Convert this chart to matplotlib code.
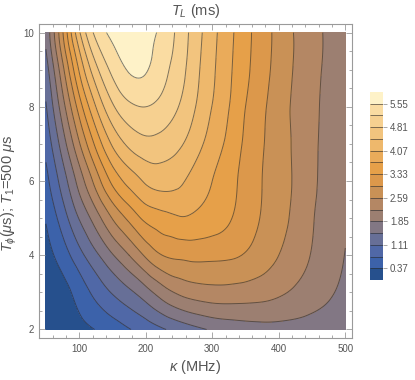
import numpy as np
import matplotlib
matplotlib.use("Agg")
import matplotlib.pyplot as plt
import matplotlib.tri as mtri
from matplotlib.ticker import MultipleLocator

plt.rcParams['font.family'] = ['Liberation Sans', 'DejaVu Sans']
plt.rcParams['mathtext.fontset'] = 'custom'
plt.rcParams['mathtext.rm'] = 'Liberation Sans'
plt.rcParams['mathtext.it'] = 'Liberation Sans:italic'
plt.rcParams['mathtext.bf'] = 'Liberation Sans:bold'

# --- data: T_L (ms) on a kappa x T_phi grid ---
KAPPA = [50, 75, 100, 125, 150, 175, 200, 225, 250, 275, 300, 325, 350, 375, 400, 425, 450, 475, 500]
TPHI = [2, 3, 4, 5, 6, 7, 8, 9, 10]

TL_2 = [0.11, 0.17, 0.255, 0.38, 0.54, 0.72, 0.89, 1.07, 1.23, 1.39, 1.52, 1.60, 1.66, 1.70, 1.71, 1.70, 1.68, 1.64, 1.60]
TL_3 = [0.14, 0.25, 0.52, 0.85, 1.14, 1.40, 1.70, 2.04, 2.28, 2.40, 2.45, 2.45, 2.42, 2.37, 2.28, 2.16, 2.03, 1.90, 1.76]
TL_4 = [0.24, 0.55, 0.98, 1.40, 1.82, 2.22, 2.65, 2.96, 3.04, 3.07, 3.05, 3.02, 2.93, 2.77, 2.59, 2.39, 2.20, 2.02, 1.84]
TL_5 = [0.40, 0.92, 1.50, 2.04, 2.61, 3.05, 3.42, 3.57, 3.67, 3.63, 3.53, 3.37, 3.15, 2.93, 2.72, 2.50, 2.25, 2.07, 1.88]
TL_6 = [0.63, 1.28, 2.00, 2.74, 3.42, 3.83, 4.12, 4.22, 4.14, 3.92, 3.70, 3.47, 3.20, 2.96, 2.75, 2.54, 2.29, 2.09, 1.90]
TL_7 = [0.86, 1.66, 2.55, 3.42, 4.12, 4.52, 4.70, 4.66, 4.50, 4.22, 3.90, 3.60, 3.26, 2.99, 2.76, 2.53, 2.30, 2.10, 1.92]
TL_8 = [1.08, 2.06, 3.13, 4.07, 4.75, 5.10, 5.18, 5.06, 4.80, 4.44, 4.06, 3.71, 3.33, 3.03, 2.76, 2.52, 2.31, 2.11, 1.93]
TL_9 = [1.31, 2.48, 3.74, 4.70, 5.28, 5.58, 5.58, 5.31, 4.98, 4.55, 4.14, 3.77, 3.42, 3.10, 2.82, 2.55, 2.33, 2.14, 1.96]
TL_10 = [1.55, 2.92, 4.38, 5.28, 5.63, 5.68, 5.64, 5.47, 5.06, 4.62, 4.19, 3.81, 3.45, 3.13, 2.84, 2.56, 2.35, 2.15, 1.97]

TL_ROWS = [TL_2, TL_3, TL_4, TL_5, TL_6, TL_7, TL_8, TL_9, TL_10]

LEVEL_STEP = 0.37
N_LINES = 15
CB_TICKS = [0.37, 1.11, 1.85, 2.59, 3.33, 4.07, 4.81, 5.55]

# --- style ---
BAND_COLORS = ['#26508d', '#3c62aa', '#5068a7', '#676f97', '#827784', '#9c7f71',
               '#b48764', '#c99156', '#dc984b', '#e6a049', '#eaab5a', '#eeb86c',
               '#f2c47e', '#f6d090', '#fadca2', '#fef2c8']
TEXT_COLOR = '#555555'
FRAME_COLOR = '#9a9a9a'
PX_PER_KAPPA = 0.665   # screen scale, used only to shape the smoothing triangles
PX_PER_TPHI = 37.0


def make_plot():
    k_grid, t_grid = np.meshgrid(KAPPA, TPHI)
    z = np.array(TL_ROWS)

    # smooth the read grid with matplotlib's cubic tri-interpolator,
    # working in screen-like units so the triangles are not too skewed
    tri = mtri.Triangulation(k_grid.ravel() * PX_PER_KAPPA, t_grid.ravel() * PX_PER_TPHI)
    interp = mtri.CubicTriInterpolator(tri, z.ravel(), kind='min_E')
    refiner = mtri.UniformTriRefiner(tri)
    tri_ref, z_ref = refiner.refine_field(z.ravel(), triinterpolator=interp, subdiv=4)
    tri_data = mtri.Triangulation(tri_ref.x / PX_PER_KAPPA, tri_ref.y / PX_PER_TPHI,
                                  tri_ref.triangles)

    line_levels = [LEVEL_STEP * (i + 1) for i in range(N_LINES)]
    fill_levels = [0.0] + line_levels + [float(z_ref.max()) + 1e-3]

    fig = plt.figure(figsize=(4.15, 3.8), dpi=100)
    ax = fig.add_axes([0.0947, 0.1105, 0.7533, 0.8263])

    cf = ax.tricontourf(tri_data, z_ref, levels=fill_levels, colors=BAND_COLORS)
    cl = ax.tricontour(tri_data, z_ref, levels=line_levels, colors='#2b2b2b',
                       linewidths=0.7, alpha=0.6)

    ax.set_xlim(40, 510)
    ax.set_ylim(1.77, 10.23)
    ax.xaxis.set_major_locator(MultipleLocator(100))
    ax.xaxis.set_minor_locator(MultipleLocator(20))
    ax.yaxis.set_major_locator(MultipleLocator(2))
    ax.yaxis.set_minor_locator(MultipleLocator(0.5))
    ax.tick_params(which='both', direction='in', top=True, right=True,
                   color=FRAME_COLOR, labelcolor=TEXT_COLOR, labelsize=7, width=0.6)
    ax.tick_params(which='major', length=4, pad=4)
    ax.tick_params(which='minor', length=2)
    for s in ax.spines.values():
        s.set_color(FRAME_COLOR)
        s.set_linewidth(0.8)

    fig.text(0.471, 1 - 11 / 380, r'$T_L$ (ms)', ha='center', va='center',
             fontsize=10.5, color=TEXT_COLOR)
    fig.text(0.471, 1 - 367 / 380, r'$\kappa$ (MHz)', ha='center', va='center',
             fontsize=10.5, color=TEXT_COLOR)
    fig.text(0.022, 0.49, r'$T_\phi$($\mu$s); $T_1$=500 $\mu$s', ha='center',
             va='center', rotation=90, fontsize=10.5, color=TEXT_COLOR)

    # colour legend
    cax = fig.add_axes([0.8916, 0.263, 0.0313, 0.495])
    cbar = fig.colorbar(cf, cax=cax, ticks=CB_TICKS)
    cbar.add_lines(cl)
    cbar.outline.set_visible(False)
    cbar.ax.set_yticklabels(['%.2f' % t for t in CB_TICKS])
    cbar.ax.tick_params(length=3, width=0.6, color=FRAME_COLOR,
                        labelcolor=TEXT_COLOR, labelsize=7, pad=2)

    fig.savefig('out.png', dpi=100)


if __name__ == '__main__':
    make_plot()
